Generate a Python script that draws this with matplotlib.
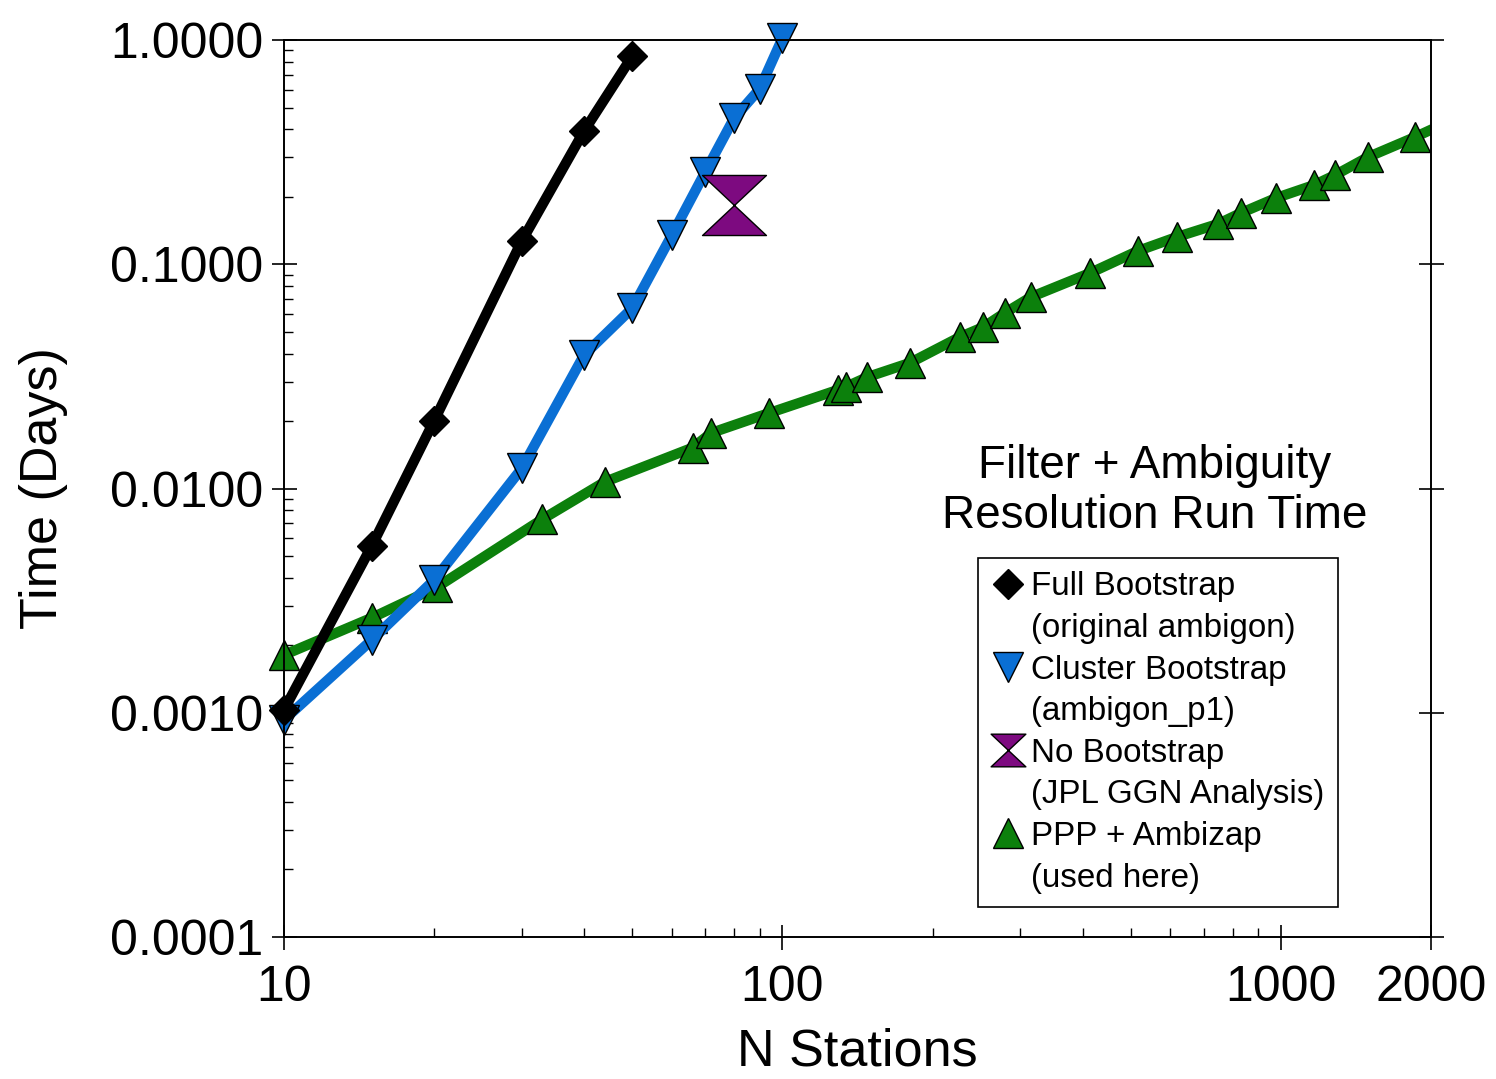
import matplotlib.pyplot as plt
from matplotlib.path import Path
from matplotlib.lines import Line2D
from matplotlib.ticker import FixedLocator, FixedFormatter, NullFormatter, FormatStrFormatter

plt.rcParams['font.family'] = ['Liberation Sans', 'DejaVu Sans']

# Full Bootstrap (original ambigon)
full_n = [10, 15, 20, 30, 40, 50]
full_t = [0.00103, 0.00554, 0.0200, 0.127, 0.393, 0.849]

# Cluster Bootstrap (ambigon_p1)
clus_n = [10, 15, 20, 30, 40, 50, 60, 70, 80, 90, 100]
clus_t = [0.00093, 0.00211, 0.0039, 0.0123, 0.0394, 0.0638, 0.135, 0.258, 0.449, 0.605, 1.02]

# No Bootstrap (JPL GGN Analysis)
nob_n = [80]
nob_t = [0.184]

# PPP + Ambizap (used here)
ppp_n = [10, 15, 20.3, 33, 44, 66, 72, 94, 129, 134, 148, 180, 227, 253, 279, 315,
         414, 516, 618, 747, 831, 977, 1165, 1284, 1495, 1858, 2400]
ppp_t = [0.00181, 0.00265, 0.00364, 0.0073, 0.0107, 0.0152, 0.0177, 0.0217, 0.0275,
         0.0284, 0.0314, 0.0363, 0.0474, 0.0525, 0.0606, 0.0714, 0.0914, 0.1146,
         0.1323, 0.1512, 0.1693, 0.1974, 0.2256, 0.250, 0.3007, 0.3693, 0.48]

x_ticks = [10, 100, 1000, 2000]
y_ticks = [0.0001, 0.001, 0.01, 0.1, 1.0]

black = 'black'
blue = '#0a6fd4'
green = '#0c800c'
purple = '#7d0a80'

hourglass = Path([(-1, 0.94), (1, 0.94), (-1, -0.94), (1, -0.94), (-1, 0.94)],
                 [Path.MOVETO, Path.LINETO, Path.LINETO, Path.LINETO, Path.CLOSEPOLY])

fig = plt.figure(figsize=(14.96, 10.79), dpi=100)
ax = fig.add_axes([0.1898, 0.1316, 0.7668, 0.8313])

# green: line clipped at the axes, markers inside the x range drawn unclipped
ax.plot(ppp_n, ppp_t, color=green, lw=7.4)
in_n = [n for n in ppp_n if n <= 2000]
in_t = [t for n, t in zip(ppp_n, ppp_t) if n <= 2000]
ax.plot(in_n, in_t, ls='none', marker='^', ms=22, mfc=green, mec='black', mew=1.0, clip_on=False)

ax.plot(clus_n, clus_t, color=blue, lw=7.4, marker='v', ms=22, mfc=blue, mec='black', mew=1.0,
        clip_on=False)
ax.plot(full_n, full_t, color=black, lw=7.4, marker='D', ms=15.5, mfc=black, mec='black', mew=1.0,
        clip_on=False)
ax.plot(nob_n, nob_t, ls='none', marker=hourglass, ms=46, mfc=purple, mec='black', mew=1.0)

ax.set_xscale('log')
ax.set_yscale('log')
ax.set_xlim(10, 2000)
ax.set_ylim(0.0001, 1.0)

ax.xaxis.set_major_locator(FixedLocator(x_ticks))
ax.xaxis.set_major_formatter(FixedFormatter([str(v) for v in x_ticks]))
ax.xaxis.set_minor_locator(FixedLocator([m * d for d in (10, 100) for m in range(2, 10)]))
ax.xaxis.set_minor_formatter(NullFormatter())
ax.yaxis.set_major_locator(FixedLocator(y_ticks))
ax.yaxis.set_major_formatter(FormatStrFormatter('%.4f'))
ax.yaxis.set_minor_locator(FixedLocator([m * 10.0 ** e for e in range(-4, 0) for m in range(2, 10)]))
ax.yaxis.set_minor_formatter(NullFormatter())

for s in ax.spines.values():
    s.set_linewidth(1.4)

ax.tick_params(which='major', direction='inout', length=18, width=1.2, labelsize=36,
               left=True, right=True, bottom=True, top=False)
ax.tick_params(which='minor', direction='in', length=6.5, width=1.0,
               left=True, right=False, bottom=True, top=False)
ax.tick_params(axis='x', which='major', pad=11)
ax.tick_params(axis='y', which='major', pad=6)

ax.set_xlabel('N Stations', fontsize=37.5, labelpad=12)
ax.set_ylabel('Time (Days)', fontsize=37.5, labelpad=30)

fig.text(1155 / 1496, 1 - 491 / 1079, 'Filter + Ambiguity\nResolution Run Time',
         ha='center', va='center', fontsize=33, linespacing=1.15)

blank = Line2D([], [], ls='none', marker=None)
handles = [
    Line2D([], [], ls='none', marker='D', ms=15.5, mfc=black, mec='black'), blank,
    Line2D([], [], ls='none', marker='v', ms=22, mfc=blue, mec='black'), blank,
    Line2D([], [], ls='none', marker=hourglass, ms=25, mfc=purple, mec='black'), blank,
    Line2D([], [], ls='none', marker='^', ms=22, mfc=green, mec='black'), blank,
]
labels = ['Full Bootstrap', '(original ambigon)',
          'Cluster Bootstrap', '(ambigon_p1)',
          'No Bootstrap', '(JPL GGN Analysis)',
          'PPP + Ambizap', '(used here)']
leg = ax.legend(handles, labels, loc='upper left', bbox_to_anchor=(978 / 1496, 1 - 558 / 1079),
                bbox_transform=fig.transFigure, fontsize=23.9, frameon=True, fancybox=False,
                borderpad=0.4, borderaxespad=0, handlelength=1.0, handletextpad=0.2,
                labelspacing=0.32, framealpha=1)
leg.get_frame().set_edgecolor('black')
leg.get_frame().set_linewidth(1.2)

fig.savefig('out.png', dpi=100)
